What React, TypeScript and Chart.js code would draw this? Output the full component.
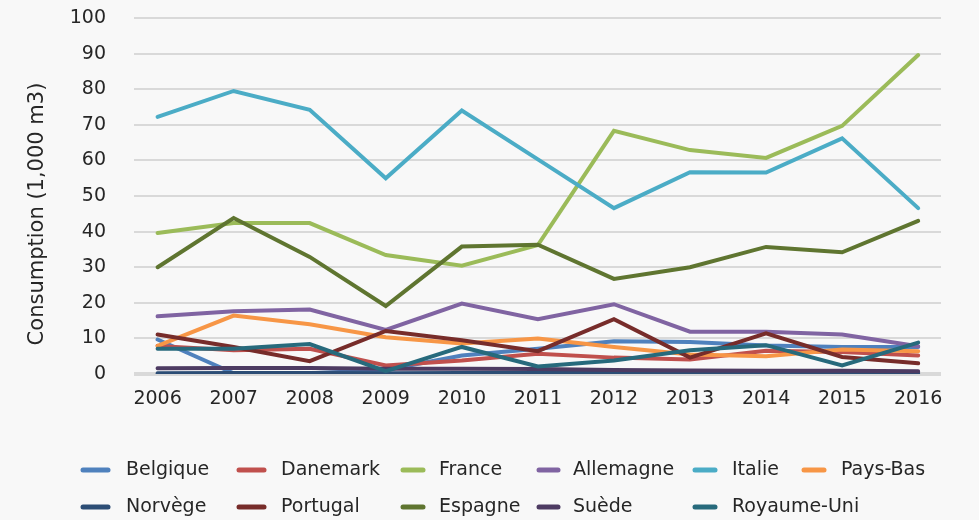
import React, { useEffect, useRef } from "react";
import { Chart, registerables } from "chart.js";

Chart.register(...registerables);

const years = [2006, 2007, 2008, 2009, 2010, 2011, 2012, 2013, 2014, 2015, 2016];
const yTicks = [0, 10, 20, 30, 40, 50, 60, 70, 80, 90, 100];
const yTitle = "Consumption (1,000 m3)";

const seriesNames = [
  "Belgique", "Danemark", "France", "Allemagne", "Italie", "Pays-Bas",
  "Norvège", "Portugal", "Espagne", "Suède", "Royaume-Uni",
];
const seriesColors = [
  "#4F81BD", "#C0504D", "#9BBB59", "#8064A2", "#4BACC6", "#F79646",
  "#2C4D75", "#772C2A", "#5F7530", "#4D3B62", "#276A7C",
];

const belgique = [9.7, 0.2, 0.2, 1.1, 5.2, 7.1, 9.2, 9.0, 8.0, 7.6, 7.6];
const danemark = [7.9, 6.7, 7.1, 2.4, 3.8, 5.7, 4.6, 4.1, 6.5, 6.2, 5.2];
const france = [39.6, 42.4, 42.4, 33.4, 30.4, 36.2, 68.3, 62.9, 60.7, 69.7, 89.6];
const allemagne = [16.2, 17.6, 18.1, 12.4, 19.8, 15.4, 19.6, 11.9, 11.9, 11.1, 7.8];
const italie = [72.2, 79.5, 74.2, 55.0, 74.0, 60.3, 46.6, 56.7, 56.6, 66.2, 46.6];
const paysBas = [7.9, 16.4, 14.0, 10.3, 8.6, 10.0, 7.6, 5.5, 5.0, 6.9, 6.4];
const norvege = [0.2, 0.3, 0.3, 0.2, 0.3, 0.3, 0.3, 0.2, 0.2, 0.3, 0.3];
const portugal = [11.1, 7.6, 3.6, 12.1, 9.5, 6.4, 15.4, 4.6, 11.4, 4.8, 3.0];
const espagne = [30.0, 43.8, 32.9, 19.1, 35.8, 36.3, 26.7, 30.0, 35.7, 34.2, 43.0];
const suede = [1.6, 1.7, 1.7, 1.5, 1.5, 1.4, 1.1, 1.0, 0.9, 0.9, 0.8];
const royaumeUni = [7.1, 7.1, 8.4, 0.8, 7.6, 2.1, 3.8, 6.7, 8.1, 2.4, 8.8];

const seriesValues = [
  belgique, danemark, france, allemagne, italie, paysBas,
  norvege, portugal, espagne, suede, royaumeUni,
];

const FONT = "'DejaVu Sans', sans-serif";
const TEXT = "#262626";
const BG = "#f8f8f8";

// legend layout: columns [markerStart, markerEnd, textX], rows y
const legendCols = [
  [81, 110, 126],
  [237, 266, 281],
  [401, 425, 439],
  [537, 560, 573],
  [693, 717, 732],
  [802, 826, 841],
];
const legendRows = [470, 507];

const customPlugin = {
  id: "custom",
  beforeDraw(chart: any) {
    const { ctx, width, height } = chart;
    ctx.save();
    ctx.fillStyle = BG;
    ctx.fillRect(0, 0, width, height);
    ctx.restore();
  },
  afterDraw(chart: any) {
    const { ctx } = chart;
    ctx.save();
    // y-axis title
    ctx.translate(38, 214);
    ctx.rotate(-Math.PI / 2);
    ctx.fillStyle = TEXT;
    ctx.font = `21px ${FONT}`;
    ctx.textAlign = "center";
    ctx.textBaseline = "middle";
    ctx.fillText(yTitle, 0, 0);
    ctx.restore();

    // legend
    ctx.save();
    ctx.font = `19px ${FONT}`;
    ctx.textBaseline = "middle";
    ctx.textAlign = "left";
    chart.data.datasets.forEach((ds: any, i: number) => {
      const col = legendCols[i % 6];
      const y = legendRows[Math.floor(i / 6)];
      ctx.strokeStyle = ds.borderColor;
      ctx.lineWidth = 5;
      ctx.lineCap = "round";
      ctx.beginPath();
      ctx.moveTo(col[0] + 2, y);
      ctx.lineTo(col[1] - 2, y);
      ctx.stroke();
      ctx.fillStyle = TEXT;
      ctx.fillText(ds.label, col[2], y);
    });
    ctx.restore();
  },
};

export default function App() {
  const ref = useRef<HTMLCanvasElement>(null);
  useEffect(() => {
    document.body.style.margin = "0";
    document.body.style.background = BG;
    const datasets = seriesNames.map((name, i) => ({
      label: name,
      data: years.map((yr, j) => ({ x: yr, y: seriesValues[i][j] })),
      borderColor: seriesColors[i],
      backgroundColor: seriesColors[i],
      borderWidth: 4,
      pointRadius: 0,
      tension: 0,
      borderCapStyle: "round" as const,
      order: seriesNames.length - i,
    }));
    const chart = new Chart(ref.current!, {
      type: "line",
      data: { datasets },
      plugins: [customPlugin],
      options: {
        animation: false,
        responsive: false,
        devicePixelRatio: 1,
        layout: { padding: { top: 18, right: 38, bottom: 106, left: 0 } },
        plugins: { legend: { display: false }, tooltip: { enabled: false } },
        scales: {
          x: {
            type: "linear",
            min: 2005.69,
            max: 2016.3,
            afterBuildTicks: (scale: any) => {
              scale.ticks = years.map((v) => ({ value: v }));
            },
            afterFit: (scale: any) => {
              scale.height = 40;
              scale.paddingLeft = 0;
              scale.paddingRight = 0;
            },
            grid: { display: false, drawTicks: false },
            border: { display: false },
            ticks: {
              color: TEXT,
              font: { family: FONT, size: 19 },
              padding: 14,
              maxRotation: 0,
              autoSkip: false,
              callback: (v: any) => String(v),
            },
          },
          y: {
            min: 0,
            max: 100,
            afterBuildTicks: (scale: any) => {
              scale.ticks = yTicks.map((v) => ({ value: v }));
            },
            afterFit: (scale: any) => {
              scale.width = 134;
              scale.paddingTop = 0;
              scale.paddingBottom = 0;
            },
            grid: {
              color: "#d9d9d9",
              lineWidth: (c: any) => (c.tick && c.tick.value === 0 ? 4 : 2),
              drawTicks: false,
            },
            border: { display: false },
            ticks: {
              color: TEXT,
              font: { family: FONT, size: 19 },
              padding: 28,
              callback: (v: any) => String(v),
            },
          },
        },
      },
    });
    return () => chart.destroy();
  }, []);
  return <canvas ref={ref} width={979} height={520} style={{ display: "block" }} />;
}
